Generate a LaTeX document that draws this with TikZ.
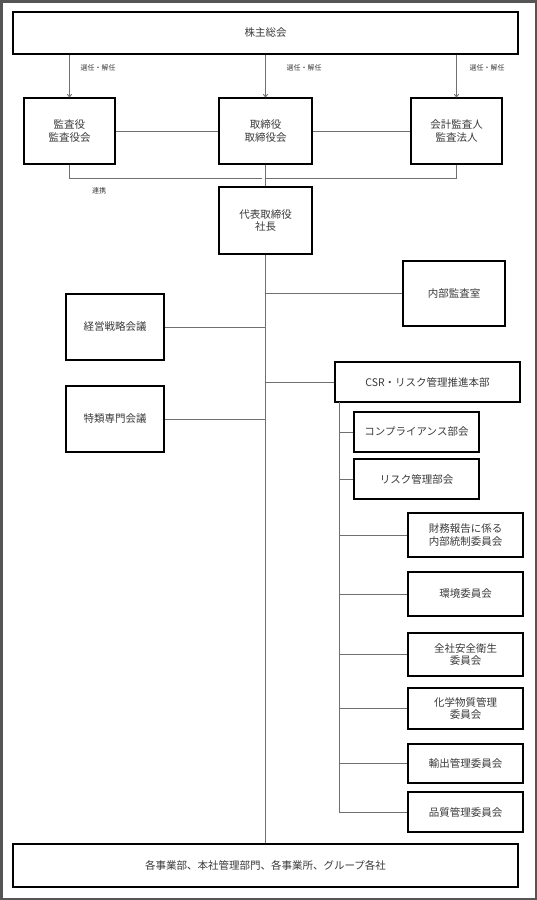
\documentclass[tikz,border=0pt]{standalone}
\usepackage{fontspec}
\setmainfont{Noto Sans CJK JP}
\usetikzlibrary{arrows.meta}
\definecolor{txt}{HTML}{3A3A3A}
\definecolor{lnk}{HTML}{707070}
\definecolor{frm}{HTML}{555555}
\tikzset{
  box/.style={draw=black, line width=1.2pt, fill=white, text=txt, align=center,
    font=\fontsize{10.5}{12.5}\selectfont, inner sep=0pt},
  link/.style={draw=lnk, line width=0.9pt},
  arr/.style={link, -{To[length=3.5pt,width=5pt]}},
  lbl/.style={text=txt, font=\fontsize{7}{8}\selectfont, inner sep=0pt}
}
\begin{document}
\begin{tikzpicture}[x=1pt,y=-1pt]
\useasboundingbox (0,0) rectangle (537,900);
\draw[frm, line width=2.5pt] (1.25,1.25) rectangle (535.75,898.75);

\node[box, minimum width=505, minimum height=42] (top) at (265.5,33) {株主総会};
\node[box, minimum width=91, minimum height=66] (kansa) at (69.5,131) {監査役\\監査役会};
\node[box, minimum width=93, minimum height=66] (tori) at (265.5,131) {取締役\\取締役会};
\node[box, minimum width=91, minimum height=66] (kaikei) at (456.5,131) {会計監査人\\監査法人};
\node[box, minimum width=93, minimum height=67] (daihyo) at (265.5,220.5) {代表取締役\\社長};
\node[box, minimum width=102, minimum height=65] (naibu) at (454,293.5) {内部監査室};
\node[box, minimum width=98, minimum height=66] (keiei) at (115,327) {経営戦略会議};
\node[box, minimum width=98, minimum height=66] (tokurui) at (115,419) {特類専門会議};
\node[box, minimum width=185, minimum height=40] (csr) at (427.5,382) {CSR・リスク管理推進本部};
\node[box, minimum width=125, minimum height=40] (comp) at (416.5,432) {コンプライアンス部会};
\node[box, minimum width=125, minimum height=40] (risk) at (416.5,479) {リスク管理部会};
\node[box, minimum width=115, minimum height=44] (zaimu) at (465.5,535) {財務報告に係る\\内部統制委員会};
\node[box, minimum width=115, minimum height=44] (kankyo) at (465.5,594) {環境委員会};
\node[box, minimum width=115, minimum height=43] (anzen) at (465.5,654.5) {全社安全衛生\\委員会};
\node[box, minimum width=115, minimum height=41] (kagaku) at (465.5,708.5) {化学物質管理\\委員会};
\node[box, minimum width=115, minimum height=39] (yushutsu) at (465.5,763.5) {輸出管理委員会};
\node[box, minimum width=115, minimum height=40] (hinshitsu) at (465.5,812) {品質管理委員会};
\node[box, minimum width=505, minimum height=43] (bottom) at (265.5,865.5) {各事業部、本社管理部門、各事業所、グループ各社};

% election arrows
\draw[arr] (top.south -| kansa.north) -- (kansa.north);
\draw[arr] (top.south) -- (tori.north);
\draw[arr] (top.south -| kaikei.north) -- (kaikei.north);
\node[lbl] (l1) at (98,68) {選任・解任};
\node[lbl] (l2) at (304,68) {選任・解任};
\node[lbl] (l3) at (487,68) {選任・解任};

% board links
\draw[link] (kansa.east) -- (tori.west);
\draw[link] (tori.east) -- (kaikei.west);
\coordinate (jL) at (262,178);
\draw[link] (kansa.south) |- (jL);
\draw[link] (kaikei.south) |- (tori.south |- jL);
\draw[link] (tori.south) -- (daihyo.north);
\node[lbl] (l4) at (99,191) {連携};

% main trunk
\draw[link] (daihyo.south) -- (bottom.north);
\draw[link] (daihyo.south |- naibu.west) -- (naibu.west);
\draw[link] (daihyo.south |- keiei.east) -- (keiei.east);
\draw[link] (daihyo.south |- csr.west) -- (csr.west);
\draw[link] (daihyo.south |- tokurui.east) -- (tokurui.east);

% CSR sub trunk
\coordinate (sub) at (339,402);
\draw[link] (sub) -- (sub |- hinshitsu.west);
\foreach \n in {comp,risk,zaimu,kankyo,anzen,kagaku,yushutsu,hinshitsu}{
  \draw[link] (sub |- \n.west) -- (\n.west);
}
\end{tikzpicture}
\end{document}
